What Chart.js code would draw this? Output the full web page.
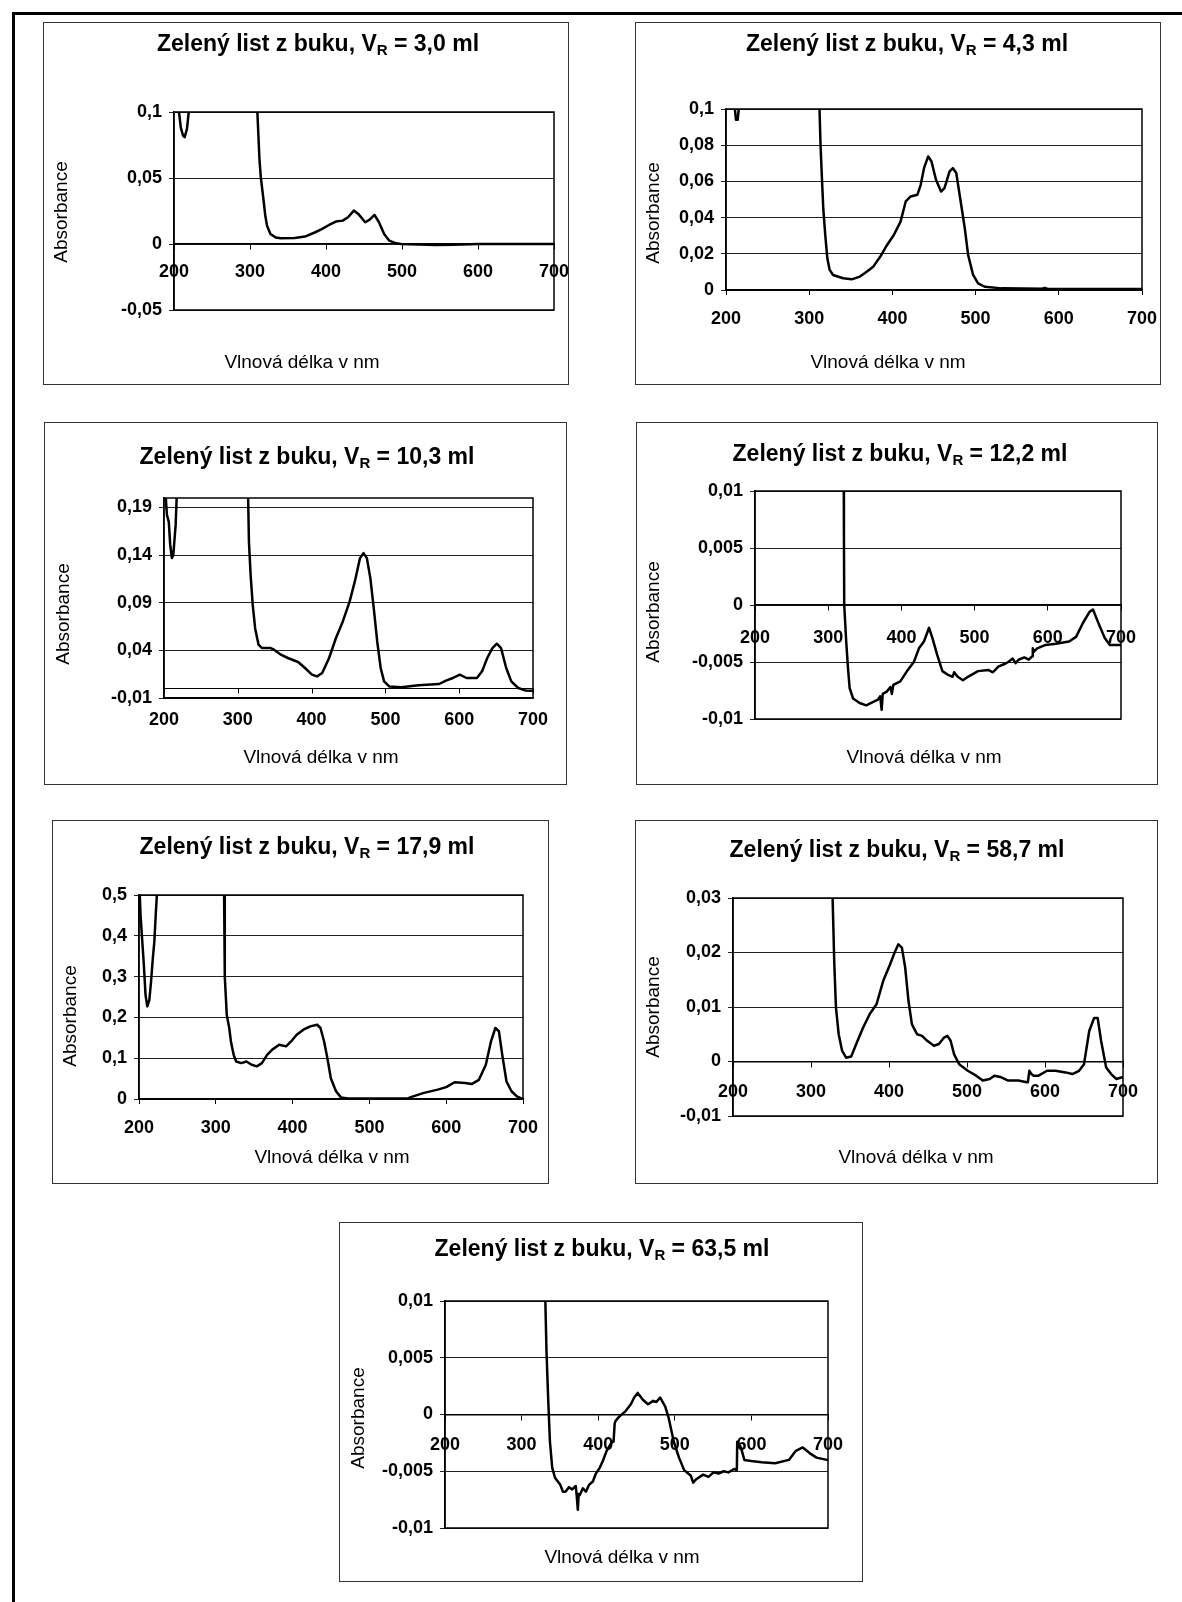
<!DOCTYPE html>
<html>
<head>
<meta charset="utf-8">
<script src="https://cdn.jsdelivr.net/npm/chart.js@4.4.1/dist/chart.umd.min.js"></script>
<style>
  body { margin: 0; background: #fff; }
  #page { position: relative; width: 1182px; height: 1602px; overflow: hidden; background: #fff; }
  #frame { position: absolute; left: 12px; top: 12px; width: 1200px; height: 1620px;
           border-top: 3px solid #000; border-left: 3px solid #000; }
  canvas { position: absolute; }
</style>
</head>
<body>
<div id="page"><div id="frame"></div></div>
<script>
// retention volumes shown in the titles
const volumes = ['3,0', '4,3', '10,3', '12,2', '17,9', '58,7', '63,5'];
const xTicks = [200, 300, 400, 500, 600, 700];

// y axis ranges per chart
const yMin  = [-0.05, 0,    -0.01, -0.01, 0,   -0.01, -0.01];
const yMax  = [0.1,   0.1,  0.2,   0.01,  0.5, 0.03,  0.01];
const yStep = [0.05,  0.02, 0.05,  0.005, 0.1, 0.01,  0.005];
const yTicks3 = [-0.01, 0.04, 0.09, 0.14, 0.19];

// spectra (wavelength nm / absorbance); values past the top are off scale
const wl1  = [200, 206, 209, 212, 214, 217, 220, 222, 300, 309, 309.7, 312.4, 314.2, 317.9, 320.1, 322.4, 326.9, 333.7, 340.5, 358.7, 372.3, 385.9, 395, 404, 413, 422, 429, 436.6, 442.5, 451.6, 457.5, 463.8, 469.7, 476.5, 483.3, 492.4, 499, 544.5, 567, 590, 600, 700];
const abs1 = [0.12, 0.103, 0.088, 0.082, 0.081, 0.087, 0.103, 0.12, 0.2, 0.12, 0.1, 0.0646, 0.0506, 0.0329, 0.0215, 0.0139, 0.0076, 0.005, 0.0043, 0.0046, 0.0056, 0.0089, 0.0114, 0.0144, 0.017, 0.0177, 0.0203, 0.0253, 0.0228, 0.0165, 0.0185, 0.022, 0.0165, 0.0076, 0.0025, 0.0005, 0, -0.0008, -0.0006, -0.0002, 0, 0];

const wl2  = [200, 210, 212, 214, 216, 218, 300, 311.5, 312.4, 313.6, 315.3, 316.9, 319.3, 321.8, 324.6, 328.7, 340.8, 351, 361, 369, 377, 385.5, 393.6, 401.7, 409.8, 416, 422, 430, 434, 438, 443, 447, 452.4, 458.5, 462.6, 468.7, 472.7, 476.8, 480.8, 487, 491, 497, 503, 511, 531.6, 580, 583, 586, 650, 700];
const abs2 = [0.12, 0.103, 0.094, 0.094, 0.103, 0.12, 0.3, 0.12, 0.1, 0.0803, 0.0618, 0.0452, 0.0304, 0.0175, 0.0111, 0.0083, 0.0065, 0.0059, 0.0074, 0.0101, 0.0129, 0.0185, 0.0249, 0.0304, 0.0378, 0.0489, 0.0517, 0.0526, 0.0581, 0.0673, 0.0738, 0.071, 0.0609, 0.0544, 0.0563, 0.0655, 0.0673, 0.0646, 0.0526, 0.0341, 0.0194, 0.0083, 0.0037, 0.0018, 0.0009, 0.0007, 0.0012, 0.0007, 0.0006, 0.0006];

const wl3  = [200, 202, 204, 206.5, 208.4, 210.7, 212.6, 214.4, 215.8, 217.4, 220, 300, 313.5, 315.1, 317.4, 320.2, 323.5, 328.1, 332.8, 344.5, 349.1, 358.4, 367.8, 381.7, 391.1, 400.4, 407.4, 414.4, 423.7, 433, 442.3, 451.6, 458.6, 465.6, 470.3, 474.9, 479.6, 484.2, 488.9, 493.6, 498.2, 505.2, 521.5, 544.8, 572.8, 582.1, 591.4, 600.7, 610, 624, 631, 638, 645, 651, 656.7, 663.7, 670.6, 680, 689.3, 698.6, 700];
const abs3 = [0.25, 0.205, 0.182, 0.175, 0.151, 0.137, 0.14, 0.158, 0.172, 0.205, 0.3, 0.5, 0.22, 0.154, 0.119, 0.088, 0.063, 0.046, 0.0424, 0.0424, 0.0407, 0.0355, 0.032, 0.0278, 0.0215, 0.0145, 0.0127, 0.0162, 0.032, 0.053, 0.0704, 0.0914, 0.1124, 0.1369, 0.1421, 0.1369, 0.1159, 0.0844, 0.0494, 0.0215, 0.0075, 0.0022, 0.0012, 0.0033, 0.0047, 0.0082, 0.011, 0.0145, 0.011, 0.011, 0.018, 0.032, 0.0424, 0.047, 0.0424, 0.0215, 0.0075, 0.0005, -0.002, -0.0023, -0.0023];

const wl4  = [200, 321.2, 321.5, 321.9, 324.6, 327, 329.3, 334, 343, 352, 361.6, 368, 371, 373, 374.5, 380, 385, 387, 389, 398.5, 407.7, 417, 424, 430.8, 437.8, 442.4, 449, 456, 463, 470, 472, 477, 484, 490.9, 504.7, 518.6, 525, 532.4, 540, 546, 552, 556, 560, 568, 574, 578.6, 579.5, 581, 585.5, 597, 611, 629, 638.6, 647.8, 657, 661.7, 668.6, 677.8, 684.8, 698.6, 700];
const abs4 = [0.05, 0.012, 0.006, 0, -0.0032, -0.0055, -0.0073, -0.0082, -0.0086, -0.0088, -0.0085, -0.0083, -0.008, -0.0092, -0.0078, -0.0076, -0.0072, -0.0078, -0.007, -0.0067, -0.0058, -0.005, -0.0038, -0.0032, -0.002, -0.0029, -0.0044, -0.0058, -0.0061, -0.0063, -0.0059, -0.0063, -0.0066, -0.0063, -0.0058, -0.0057, -0.0059, -0.0054, -0.0052, -0.005, -0.0047, -0.0051, -0.0048, -0.0046, -0.0048, -0.0045, -0.0038, -0.0041, -0.0038, -0.0035, -0.0034, -0.0032, -0.0028, -0.0016, -0.0006, -0.0004, -0.0015, -0.0029, -0.0035, -0.0035, -0.0035];

const wl5  = [200, 201, 202, 204, 206.3, 208.5, 210.8, 213.5, 215.7, 218, 220, 222, 223.3, 225, 300, 310.2, 310.8, 311.7, 314.3, 317.5, 319.7, 323.3, 326.5, 333, 340, 346.6, 353.4, 360, 366.8, 373.5, 382.5, 391.5, 398, 405, 414, 423, 432, 436.3, 441, 445.3, 449.8, 456.5, 463, 472, 550, 553, 571, 589, 600, 611, 624.6, 633.6, 642.6, 651.6, 658.3, 664, 668.6, 673, 678.5, 685, 692, 698.7, 700];
const abs5 = [0.55, 0.5, 0.451, 0.394, 0.329, 0.255, 0.227, 0.243, 0.288, 0.345, 0.386, 0.459, 0.5, 0.6, 1.0, 0.55, 0.5, 0.3, 0.206, 0.174, 0.141, 0.108, 0.092, 0.088, 0.092, 0.084, 0.08, 0.088, 0.108, 0.121, 0.133, 0.129, 0.141, 0.157, 0.17, 0.178, 0.182, 0.174, 0.141, 0.1, 0.051, 0.019, 0.004, 0.001, 0.001, 0.004, 0.015, 0.023, 0.029, 0.041, 0.039, 0.037, 0.047, 0.084, 0.141, 0.174, 0.166, 0.108, 0.043, 0.019, 0.0065, 0.001, 0];

const wl6  = [200, 327.5, 327.7, 329.9, 332, 335.5, 339.8, 345, 351.5, 358, 366.7, 375.3, 384, 392.6, 401.3, 407.8, 412, 416.5, 420.8, 425, 429.4, 436, 442.4, 449, 457.6, 464, 470.6, 474.9, 479, 483.5, 490, 501, 511.7, 520.3, 529, 535.5, 544, 552.8, 565.8, 576.6, 578, 580, 582, 585, 591.8, 602.6, 613.4, 626.4, 635, 643.7, 650, 656.7, 663, 667.5, 671.9, 678.4, 684.8, 691.3, 699, 700];
const abs6 = [0.06, 0.032, 0.03, 0.0178, 0.0099, 0.005, 0.002, 0.0007, 0.0009, 0.0032, 0.0062, 0.0087, 0.0105, 0.0148, 0.0178, 0.0202, 0.0215, 0.0209, 0.0172, 0.0111, 0.0068, 0.005, 0.0047, 0.0038, 0.0029, 0.0032, 0.0044, 0.0047, 0.0038, 0.0013, -0.0005, -0.0017, -0.0026, -0.0035, -0.0032, -0.0026, -0.0029, -0.0035, -0.0035, -0.0038, -0.0038, -0.0017, -0.0022, -0.0026, -0.0026, -0.0017, -0.0017, -0.002, -0.0023, -0.0017, -0.0005, 0.0056, 0.008, 0.008, 0.0038, -0.0011, -0.0023, -0.0032, -0.0029, -0.003];

const wl7  = [200, 330.8, 331, 332.5, 334.8, 337, 340, 343.8, 350.5, 354, 357.2, 362, 366, 370.7, 372, 373.4, 374.5, 376, 380, 384, 388, 393, 397, 402, 406, 411, 418, 420, 421.5, 422.4, 426, 429, 435.8, 442.6, 447, 451.6, 458.3, 465, 471.8, 476, 480.8, 487.5, 492, 498.7, 505.5, 512.2, 521, 524, 528, 537, 544, 550.4, 557, 563.9, 570, 577.4, 581, 581.5, 586.3, 590.8, 599.8, 613.3, 631, 649, 658, 667, 676, 685, 698.6, 700];
const abs7 = [0.03, 0.011, 0.01, 0.0056, 0.0012, -0.0024, -0.0047, -0.0056, -0.0062, -0.0068, -0.0068, -0.0064, -0.0066, -0.0063, -0.0072, -0.0084, -0.007, -0.0071, -0.0065, -0.0068, -0.0062, -0.0059, -0.0052, -0.0047, -0.0041, -0.0032, -0.0024, -0.0024, -0.0008, -0.0006, -0.0003, -0.0001, 0.0003, 0.0009, 0.0015, 0.0019, 0.0013, 0.0009, 0.0012, 0.0011, 0.0015, 0.0007, -0.0003, -0.0024, -0.0038, -0.0049, -0.0054, -0.006, -0.0057, -0.0053, -0.0055, -0.0051, -0.0052, -0.005, -0.0051, -0.0048, -0.0049, -0.0024, -0.0029, -0.004, -0.0041, -0.0042, -0.0043, -0.004, -0.0032, -0.0029, -0.0034, -0.0038, -0.004, -0.004];

const series = [[wl1, abs1], [wl2, abs2], [wl3, abs3], [wl4, abs4], [wl5, abs5], [wl6, abs6], [wl7, abs7]];

// page layout: box [l,t,r,b], plot area [l,t,r,b], text centres
const panels = [
  { box: [43, 22, 569, 385],   plot: [174, 112, 554, 310],  title: [318, 45],   xTitle: [302, 363],  yTitle: [62, 212],   atZero: true,  xPad: 12 },
  { box: [635, 22, 1161, 385], plot: [726, 109, 1142, 290], title: [907, 45],   xTitle: [888, 363],  yTitle: [654, 213],  atZero: false, xPad: 13 },
  { box: [44, 422, 567, 785],  plot: [164, 498, 533, 698],  title: [307, 458],  xTitle: [321, 758],  yTitle: [64, 614],   atZero: false, xPad: 11, zeroLine: true },
  { box: [636, 422, 1158, 785], plot: [755, 491, 1121, 719], title: [900, 455], xTitle: [924, 758],  yTitle: [654, 612],  atZero: true,  xPad: 17 },
  { box: [52, 820, 549, 1184], plot: [139, 895, 523, 1099], title: [307, 848],  xTitle: [332, 1158], yTitle: [71, 1016],  atZero: false, xPad: 13 },
  { box: [635, 820, 1158, 1184], plot: [733, 898, 1123, 1116], title: [897, 851], xTitle: [916, 1158], yTitle: [654, 1007], atZero: true, xPad: 15 },
  { box: [339, 1222, 863, 1582], plot: [445, 1301, 828, 1528], title: [602, 1250], xTitle: [622, 1558], yTitle: [359, 1418], atZero: true, xPad: 15 }
];

const FONT = '"Liberation Sans", Arial, sans-serif';
const fmt = v => String(Math.round(v * 1e6) / 1e6).replace('.', ',');

function textPlugin(p, i) {
  const [bl, bt] = p.box;
  return {
    id: 'panelText' + i,
    beforeDatasetsDraw(chart) {
      const { ctx, chartArea: a, scales } = chart;
      ctx.save();
      if (p.zeroLine) {
        const y0 = Math.round(scales.y.getPixelForValue(0)) + 0.5;
        ctx.strokeStyle = '#000';
        ctx.lineWidth = 1;
        ctx.beginPath();
        ctx.moveTo(a.left, y0);
        ctx.lineTo(a.right, y0);
        scales.x.ticks.forEach(t => {
          const x = Math.round(scales.x.getPixelForValue(t.value)) + 0.5;
          ctx.moveTo(x, y0);
          ctx.lineTo(x, y0 + 5);
        });
        ctx.stroke();
      }
      ctx.strokeStyle = '#000';
      ctx.lineWidth = 1.5;
      ctx.strokeRect(a.left, a.top, a.right - a.left, a.bottom - a.top);
      ctx.restore();
    },
    afterDraw(chart) {
      const ctx = chart.ctx;
      ctx.save();
      ctx.strokeStyle = '#333';
      ctx.lineWidth = 1;
      ctx.strokeRect(0.5, 0.5, chart.width - 1, chart.height - 1);
      ctx.fillStyle = '#000';
      ctx.textBaseline = 'middle';

      // title with subscript R
      const main = 'Zelený list z buku, V', sub = 'R', tail = ' = ' + volumes[i] + ' ml';
      const fMain = 'bold 23px ' + FONT, fSub = 'bold 15px ' + FONT;
      ctx.font = fMain;
      const w1 = ctx.measureText(main).width, w3 = ctx.measureText(tail).width;
      ctx.font = fSub;
      const w2 = ctx.measureText(sub).width;
      let x = p.title[0] - bl - (w1 + w2 + w3) / 2;
      const ty = p.title[1] - bt;
      ctx.textAlign = 'left';
      ctx.font = fMain; ctx.fillText(main, x, ty); x += w1;
      ctx.font = fSub; ctx.fillText(sub, x, ty + 6); x += w2;
      ctx.font = fMain; ctx.fillText(tail, x, ty);

      // axis titles
      ctx.textAlign = 'center';
      ctx.font = '19px ' + FONT;
      ctx.fillText('Vlnová délka v nm', p.xTitle[0] - bl, p.xTitle[1] - bt);
      ctx.translate(p.yTitle[0] - bl, p.yTitle[1] - bt);
      ctx.rotate(-Math.PI / 2);
      ctx.fillText('Absorbance', 0, 0);
      ctx.restore();
    }
  };
}

const page = document.getElementById('page');

panels.forEach((p, i) => {
  const [bl, bt, br, bb] = p.box;
  const [pl, pt, pr, pb] = p.plot;
  const [wl, abs] = series[i];
  const canvas = document.createElement('canvas');
  canvas.width = br - bl;
  canvas.height = bb - bt;
  canvas.style.left = bl + 'px';
  canvas.style.top = bt + 'px';
  page.appendChild(canvas);

  const tickFont = { family: FONT, size: 18, weight: 'bold' };

  new Chart(canvas, {
    type: 'line',
    data: {
      datasets: [{
        data: wl.map((x, k) => ({ x: x, y: abs[k] })),
        borderColor: '#000',
        borderWidth: 2.5,
        borderJoinStyle: 'round',
        borderCapStyle: 'round',
        pointRadius: 0,
        tension: 0,
        fill: false
      }]
    },
    options: {
      responsive: false,
      animation: false,
      events: [],
      layout: { padding: { top: pt - bt, right: br - pr, bottom: p.atZero ? bb - pb : 0, left: 0 } },
      plugins: { legend: { display: false }, tooltip: { enabled: false } },
      scales: {
        x: {
          type: 'linear',
          min: 200,
          max: 700,
          position: p.atZero ? { y: 0 } : 'bottom',
          afterBuildTicks: s => { s.ticks = xTicks.map(v => ({ value: v })); },
          afterFit: s => {
            if (!p.atZero) s.height = bb - pb;
            s.paddingLeft = 0;
            s.paddingRight = 0;
          },
          grid: { display: true, drawOnChartArea: false, drawTicks: !p.zeroLine, tickLength: 5, color: '#000', lineWidth: 1 },
          border: { display: true, color: '#000', width: 1.5 },
          ticks: { color: '#000', font: tickFont, padding: p.xPad, maxRotation: 0, autoSkip: false }
        },
        y: {
          type: 'linear',
          min: yMin[i],
          max: yMax[i],
          afterBuildTicks: i === 2 ? (s => { s.ticks = yTicks3.map(v => ({ value: v })); }) : undefined,
          afterFit: s => {
            s.width = pl - bl;
            s.paddingTop = 0;
            s.paddingBottom = 0;
          },
          grid: { color: '#222', lineWidth: 1, tickLength: 5 },
          border: { display: true, color: '#000', width: 1.5 },
          ticks: { stepSize: yStep[i], color: '#000', font: tickFont, padding: 7, callback: v => fmt(v) }
        }
      }
    },
    plugins: [textPlugin(p, i)]
  });
});
</script>
</body>
</html>
